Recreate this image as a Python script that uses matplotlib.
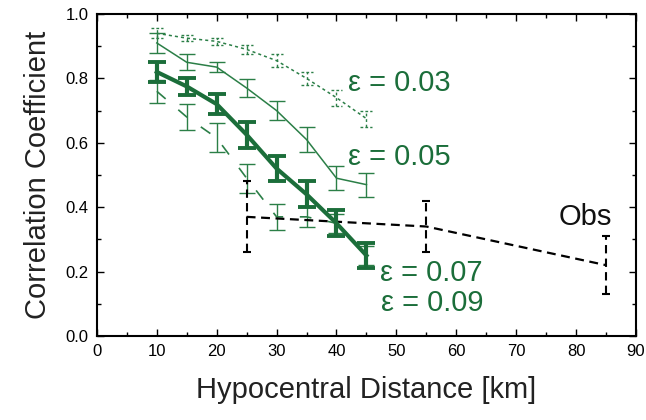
import matplotlib
matplotlib.use("Agg")
import matplotlib.pyplot as plt
import numpy as np
from matplotlib.ticker import MultipleLocator

plt.rcParams['font.family'] = ['Liberation Sans', 'DejaVu Sans']

dist = [10, 15, 20, 25, 30, 35, 40, 45]

eps03 = [0.94, 0.925, 0.915, 0.89, 0.855, 0.80, 0.74, 0.675]
eps03_err = [0.015, 0.01, 0.01, 0.015, 0.02, 0.02, 0.025, 0.025]

eps05 = [0.91, 0.85, 0.835, 0.77, 0.70, 0.61, 0.49, 0.47]
eps05_err = [0.03, 0.025, 0.015, 0.027, 0.03, 0.04, 0.037, 0.037]

eps07 = [0.82, 0.775, 0.72, 0.625, 0.52, 0.44, 0.35, 0.25]
eps07_err = [0.03, 0.027, 0.03, 0.04, 0.04, 0.04, 0.04, 0.04]

eps09 = [0.76, 0.68, 0.615, 0.49, 0.37, 0.37, 0.35, 0.25]
eps09_err = [0.035, 0.04, 0.045, 0.045, 0.04, 0.03, 0.03, 0.03]

obs_dist = [25, 55, 85]
obs = [0.37, 0.34, 0.22]
obs_err = [0.11, 0.08, 0.09]

labels = ["ε = 0.03", "ε = 0.05", "ε = 0.07", "ε = 0.09", "Obs"]

green = '#1b6e3a'
green2 = '#2b7f47'

fig = plt.figure(figsize=(6.46, 4.2), dpi=100)
ax = fig.add_axes([0.150, 0.200, 0.8345, 0.7667])

def eb(x, y, e, color, lw, ls, cap, capthick, elw, bar_ls='solid', z=2):
    c = ax.errorbar(x, y, yerr=e, color=color, lw=lw, capsize=cap,
                    capthick=capthick, elinewidth=elw, zorder=z)
    c.lines[0].set_linestyle(ls)
    for bl in c.lines[2]:
        bl.set_linestyle(bar_ls)
    return c

# eps 0.03 dotted, with dashed caps
c = eb(dist, eps03, eps03_err, green2, 1.1, (0, (2, 2)), 0, 1.0, 1.0, bar_ls=(0, (2, 2)))
d = np.array(dist, float)
y3 = np.array(eps03)
e3 = np.array(eps03_err)
for yy in (y3 + e3, y3 - e3):
    ax.hlines(yy, d - 1.0, d + 1.0, colors=green2, lw=1.0, linestyles=(0, (2, 1.5)), zorder=2)
# eps 0.05 thin solid
eb(dist, eps05, eps05_err, green2, 1.1, 'solid', 5.5, 1.0, 1.0)
# eps 0.09 long dashed
eb(dist, eps09, eps09_err, green2, 1.2, (0, (7, 10)), 5.5, 1.0, 1.0)
# eps 0.07 thick
eb(dist, eps07, eps07_err, green, 3.0, 'solid', 6.5, 2.8, 3.0, z=4)
# Obs
c = ax.errorbar(obs_dist, obs, yerr=obs_err, color='black', lw=1.6, capsize=3,
                capthick=1.5, elinewidth=1.5, zorder=3)
c.lines[0].set_linestyle((0, (4, 2.5)))
for bl in c.lines[2]:
    bl.set_linestyle((0, (4, 2.5)))

fs = 21
ax.text(41.9, 0.786, labels[0], color=green, fontsize=fs, va='center', ha='left')
ax.text(41.9, 0.556, labels[1], color=green, fontsize=fs, va='center', ha='left')
ax.text(47.2, 0.196, labels[2], color=green, fontsize=fs, va='center', ha='left')
ax.text(47.4, 0.102, labels[3], color=green, fontsize=fs, va='center', ha='left')
ax.text(86.0, 0.37, labels[4], color='#111111', fontsize=fs, va='center', ha='right')

ax.set_xlim(0, 90)
ax.set_ylim(0, 1.0)
ax.xaxis.set_major_locator(MultipleLocator(10))
ax.xaxis.set_minor_locator(MultipleLocator(5))
ax.yaxis.set_major_locator(MultipleLocator(0.2))
ax.yaxis.set_minor_locator(MultipleLocator(0.1))
ax.yaxis.set_major_formatter(plt.FormatStrFormatter('%.1f'))
ax.tick_params(which='both', direction='in', top=True, right=True, width=1.0,
               labelsize=12, colors='black')
ax.tick_params(which='major', length=5, pad=6)
ax.tick_params(which='minor', length=3)
for s in ax.spines.values():
    s.set_linewidth(1.5)

ax.set_xlabel("Hypocentral Distance [km]", fontsize=21, labelpad=12, color='#222222')
ax.set_ylabel("Correlation Coefficient", fontsize=21, labelpad=10, color='#222222')

fig.savefig("out.png", dpi=100)
